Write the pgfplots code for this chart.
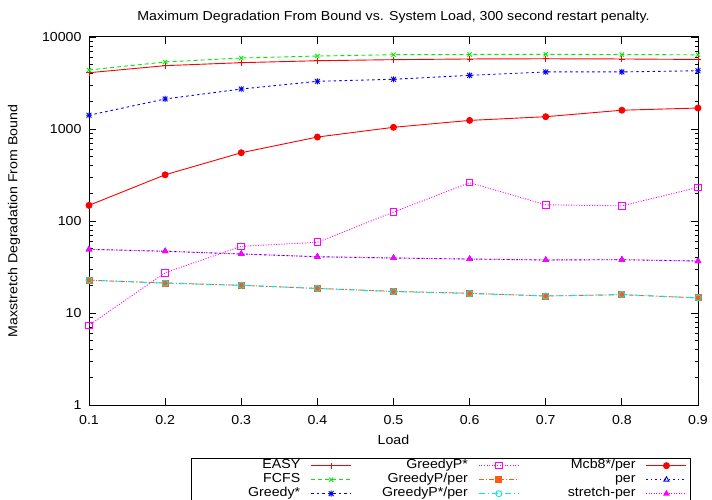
\documentclass[border=0pt]{standalone}
\usepackage{pgfplots}
\pgfplotsset{compat=1.18}
\usepackage{fontspec}
\setmainfont{Liberation Sans}[FakeStretch=1.09]
\newcommand\gpfont{\fontsize{13bp}{15bp}\selectfont}
\definecolor{gpred}{RGB}{255,0,0}
\definecolor{gpgreen}{RGB}{0,235,0}
\definecolor{gpblue}{RGB}{0,0,255}
\definecolor{gpmag}{RGB}{255,0,255}
\definecolor{gpcyan}{RGB}{0,235,235}
\definecolor{gporange}{RGB}{255,90,20}
\pgfdeclareplotmark{gpstar}{%
 \pgfpathmoveto{\pgfqpoint{-\pgfplotmarksize}{0pt}}\pgfpathlineto{\pgfqpoint{\pgfplotmarksize}{0pt}}%
 \pgfpathmoveto{\pgfqpoint{0pt}{-\pgfplotmarksize}}\pgfpathlineto{\pgfqpoint{0pt}{\pgfplotmarksize}}%
 \pgfpathmoveto{\pgfqpoint{-0.8\pgfplotmarksize}{-0.8\pgfplotmarksize}}\pgfpathlineto{\pgfqpoint{0.8\pgfplotmarksize}{0.8\pgfplotmarksize}}%
 \pgfpathmoveto{\pgfqpoint{-0.8\pgfplotmarksize}{0.8\pgfplotmarksize}}\pgfpathlineto{\pgfqpoint{0.8\pgfplotmarksize}{-0.8\pgfplotmarksize}}%
 \pgfusepathqstroke}
\begin{document}
\begin{tikzpicture}
\begin{axis}[
  at={(89bp,95bp)}, anchor=south west,
  scale only axis, width=609bp, height=368bp,
  xmin=0.1, xmax=0.9, ymode=log, ymin=1, ymax=10000,
  xtick={0.1,0.2,0.3,0.4,0.5,0.6,0.7,0.8,0.9},
  xticklabels={0.1,0.2,0.3,0.4,0.5,0.6,0.7,0.8,0.9},
  ytick={1,10,100,1000,10000},
  yticklabels={1,10,100,1000,10000},
  tick align=inside, major tick length=7bp, minor tick length=3.5bp,
  axis line style={line width=1bp},
  every tick/.style={black, line width=0.8bp},
  /pgf/number format/assume math mode=true,
  tick label style={font=\gpfont},
  xticklabel style={yshift=-7bp},
  yticklabel style={xshift=-4bp},
  clip=false,
  title={Maximum Degradation From Bound vs. System Load, 300 second restart penalty.},
  title style={font=\gpfont, at={(axis description cs:0.5,1)}, anchor=base, yshift=11bp},
  xlabel={Load},
  xlabel style={font=\gpfont, at={(axis description cs:0.5,-0.095)}, anchor=center},
  ylabel={Maxstretch Degradation From Bound},
  ylabel style={font=\gpfont, at={(axis description cs:-0.123,0.5)}, anchor=center},
  legend columns=3,
  legend plot pos=right,
  legend image code/.code={\draw[mark repeat=2,mark phase=2] plot coordinates {(0bp,0bp) (20bp,0bp) (40bp,0bp)};},
  legend style={at={(axis description cs:0.1675,-0.144)}, anchor=north west,
    draw=black, fill=white, font=\gpfont, inner xsep=3.25bp, inner ysep=0.5bp,
    nodes={inner xsep=0bp, inner ysep=1bp, text height=9bp, text depth=3bp, text width=105.75bp, align=right},
    /tikz/column sep=10.5bp, /tikz/row sep=0bp},
  every axis plot/.append style={line width=0.9bp, mark size=3bp},
]
% row 1
\addplot[gpred, mark=+, mark options={solid}] coordinates {
 (0.1,4090)(0.2,4880)(0.3,5260)(0.4,5520)(0.5,5670)(0.6,5770)(0.7,5800)(0.8,5770)(0.9,5700)};
\addlegendentry{EASY}
\addplot[gpmag, dash pattern=on 1bp off 1.6bp, mark=square, mark options={solid, line width=1bp}, mark size=3.3bp] coordinates {
 (0.1,7.35)(0.2,27.4)(0.3,53)(0.4,58.7)(0.5,125)(0.6,261)(0.7,150)(0.8,146)(0.9,232)};
\addlegendentry{GreedyP*}
\addplot[gpred, mark=*, mark options={solid}] coordinates {
 (0.1,148)(0.2,318)(0.3,552)(0.4,818)(0.5,1043)(0.6,1240)(0.7,1360)(0.8,1600)(0.9,1690)};
\addlegendentry{Mcb8*/per}
% row 2
\addplot[gpgreen, dash pattern=on 4bp off 3bp, mark=x, mark options={solid}] coordinates {
 (0.1,4380)(0.2,5350)(0.3,5910)(0.4,6210)(0.5,6420)(0.6,6460)(0.7,6480)(0.8,6450)(0.9,6400)};
\addlegendentry{FCFS}
\addplot[gporange, dash pattern=on 5bp off 2bp on 1bp off 2bp, mark=square*, mark options={solid}, mark size=3bp] coordinates {
 (0.1,22.7)(0.2,21.2)(0.3,20)(0.4,18.5)(0.5,17.2)(0.6,16.4)(0.7,15.3)(0.8,15.8)(0.9,14.6)};
\addlegendentry{GreedyP/per}
\addplot[gpblue, dash pattern=on 1.5bp off 3bp, mark=triangle, mark options={solid}] coordinates {
 (0.1,49.2)(0.2,46.9)(0.3,43.8)(0.4,40.9)(0.5,39.6)(0.6,38.6)(0.7,37.7)(0.8,38)(0.9,36.7)};
\addlegendentry{per}
% row 3
\addplot[gpblue, dash pattern=on 2.5bp off 3bp, mark=gpstar, mark options={solid}] coordinates {
 (0.1,1410)(0.2,2120)(0.3,2720)(0.4,3300)(0.5,3470)(0.6,3830)(0.7,4170)(0.8,4170)(0.9,4300)};
\addlegendentry{Greedy*}
\addplot[gpcyan, dash pattern=on 6bp off 3bp on 1bp off 3bp, mark=o, mark options={solid}] coordinates {
 (0.1,22.8)(0.2,21.1)(0.3,20)(0.4,18.5)(0.5,17.1)(0.6,16.3)(0.7,15.3)(0.8,15.9)(0.9,14.6)};
\addlegendentry{GreedyP*/per}
\addplot[gpmag, dash pattern=on 1bp off 1.5bp, mark=triangle*, mark options={solid}] coordinates {
 (0.1,49.2)(0.2,46.9)(0.3,43.8)(0.4,40.9)(0.5,39.6)(0.6,38.6)(0.7,37.7)(0.8,38)(0.9,36.7)};
\addlegendentry{stretch-per}
\end{axis}
\pgfresetboundingbox
\path[use as bounding box] (0,0) rectangle (712bp,500bp);
\end{tikzpicture}
\end{document}
